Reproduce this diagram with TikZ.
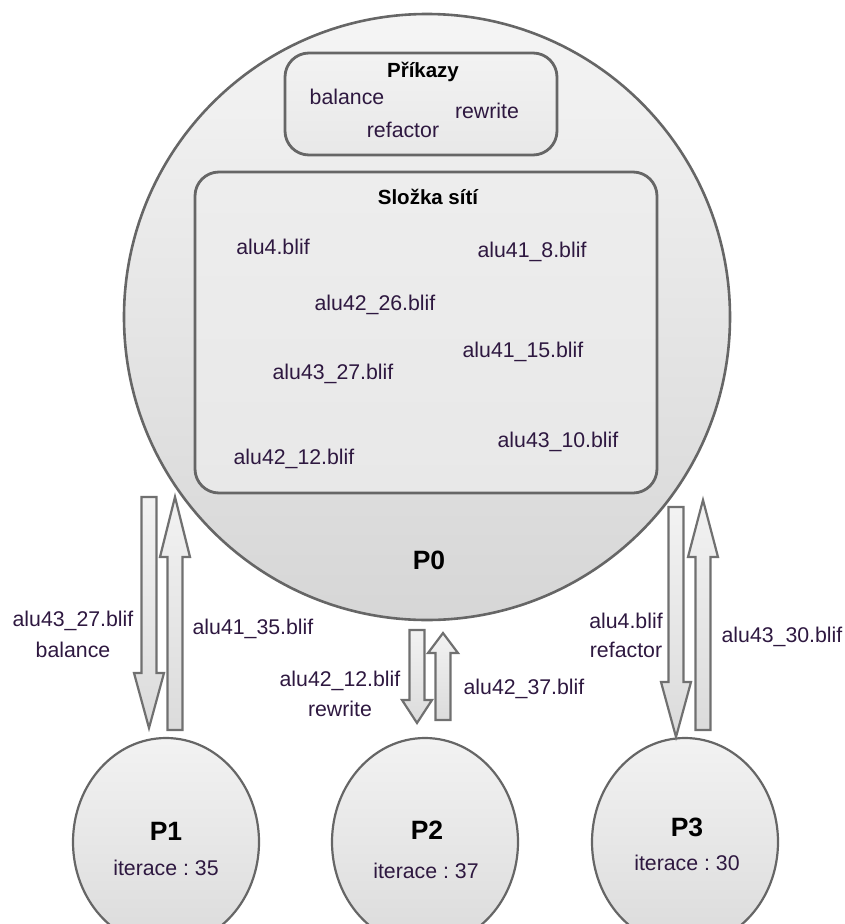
\documentclass[tikz,border=0pt]{standalone}
\usepackage{fontspec}
\setmainfont{Liberation Sans}
\usetikzlibrary{shapes.geometric,calc}
\frenchspacing

\definecolor{ink}{HTML}{2E1840}
\definecolor{edge}{HTML}{666666}
\definecolor{arredge}{HTML}{707070}

\tikzset{
  lbl/.style={font=\fontsize{21.3}{25}\selectfont, text=ink, inner sep=0pt, align=center},
  ttl/.style={font=\fontsize{20.5}{24}\selectfont\bfseries, text=black, inner sep=0pt},
  pname/.style={font=\fontsize{26.5}{30}\selectfont\bfseries, text=black, inner sep=0pt},
  panel/.style={draw=edge, line width=2.8pt, rounded corners=24pt},
  master/.style={circle, draw=edge, line width=2.6pt, inner sep=0pt,
                 top color=black!4, bottom color=black!16},
  proc/.style={ellipse, draw=edge, line width=2.2pt, inner sep=0pt,
               minimum width=186pt, minimum height=208pt,
               top color=black!5, bottom color=black!14},
  barrow/.style={draw=arredge, line width=2.2pt, line join=miter,
                 top color=black!5, bottom color=black!14},
}

% block arrow from tail coordinate #1 to tip coordinate #2, head length #3 (pt)
\newcommand\blockarrow[3]{%
  \path[barrow] let \p1=(#1), \p2=(#2), \n1={\y2-#3*sign(\y2-\y1)} in
    ({\x1-7.5pt},\y1) -- ({\x1+7.5pt},\y1) -- ({\x1+7.5pt},{\n1*1pt})
    -- ({\x1+15pt},{\n1*1pt}) -- (\x2,\y2) -- ({\x1-15pt},{\n1*1pt})
    -- ({\x1-7.5pt},{\n1*1pt}) -- cycle;}

\begin{document}
\begin{tikzpicture}[x=1pt,y=-1pt]
  \useasboundingbox (0,0) rectangle (845,924);
  \clip (0,0) rectangle (845,924);

  % master process
  \node[master, minimum size=606pt] (P0) at (427,317) {};
  \node[pname] (P0name) at (429,560) {P0};

  % command panel
  \draw[panel, top color=black!5, bottom color=black!9] (285,53) rectangle (557,155);
  \node[ttl] (cmdtitle) at (423,72) {Příkazy};
  \node[lbl] (cbal) at (347,97) {balance};
  \node[lbl] (crew) at (487,111) {rewrite};
  \node[lbl] (cref) at (403,130) {refactor};

  % network folder panel
  \draw[panel, top color=black!7, bottom color=black!9] (195,172) rectangle (657,493);
  \node[ttl] (dirtitle) at (428,197) {Složka sítí};
  \node[lbl] (f1) at (273,247) {alu4.blif};
  \node[lbl] (f2) at (532,252) {alu41\_8.blif};
  \node[lbl] (f3) at (375,305) {alu42\_26.blif};
  \node[lbl] (f4) at (523,352) {alu41\_15.blif};
  \node[lbl] (f5) at (333,374) {alu43\_27.blif};
  \node[lbl] (f6) at (558,442) {alu43\_10.blif};
  \node[lbl] (f7) at (294,459) {alu42\_12.blif};

  % worker processes
  \node[proc] (P1) at (166,842) {};
  \node[proc] (P2) at (425,842) {};
  \node[proc] (P3) at (685,842) {};
  \node[pname] (P1name) at (166,831) {P1};
  \node[lbl] (P1it) at (166,868) {iterace : 35};
  \node[pname] (P2name) at (427,830) {P2};
  \node[lbl] (P2it) at (426,871) {iterace : 37};
  \node[pname] (P3name) at (687,827) {P3};
  \node[lbl] (P3it) at (687,863) {iterace : 30};

  % transfer arrow end points
  \coordinate (a1s) at (149,497); \coordinate (a1e) at (149,728);
  \coordinate (b1s) at (175,730); \coordinate (b1e) at (175,497);
  \coordinate (a2s) at (417,630); \coordinate (a2e) at (417,723);
  \coordinate (b2s) at (443,720); \coordinate (b2e) at (443,633);
  \coordinate (a3s) at (676,507); \coordinate (a3e) at (676,737);
  \coordinate (b3s) at (703,730); \coordinate (b3e) at (703,500);

  \blockarrow{a1s}{a1e}{55}
  \blockarrow{b1s}{b1e}{60}
  \blockarrow{a2s}{a2e}{23}
  \blockarrow{b2s}{b2e}{20}
  \blockarrow{a3s}{a3e}{55}
  \blockarrow{b3s}{b3e}{57}

  % transfer labels
  \node[lbl] (t1a) at (73,621) {alu43\_27.blif};
  \node[lbl] (t1b) at (73,650) {balance};
  \node[lbl] (t1c) at (253,629) {alu41\_35.blif};
  \node[lbl] (t2a) at (340,681) {alu42\_12.blif};
  \node[lbl] (t2b) at (340,709) {rewrite};
  \node[lbl] (t2c) at (524,689) {alu42\_37.blif};
  \node[lbl] (t3a) at (626,621) {alu4.blif};
  \node[lbl] (t3b) at (626,650) {refactor};
  \node[lbl] (t3c) at (782,637) {alu43\_30.blif};
\end{tikzpicture}
\end{document}
